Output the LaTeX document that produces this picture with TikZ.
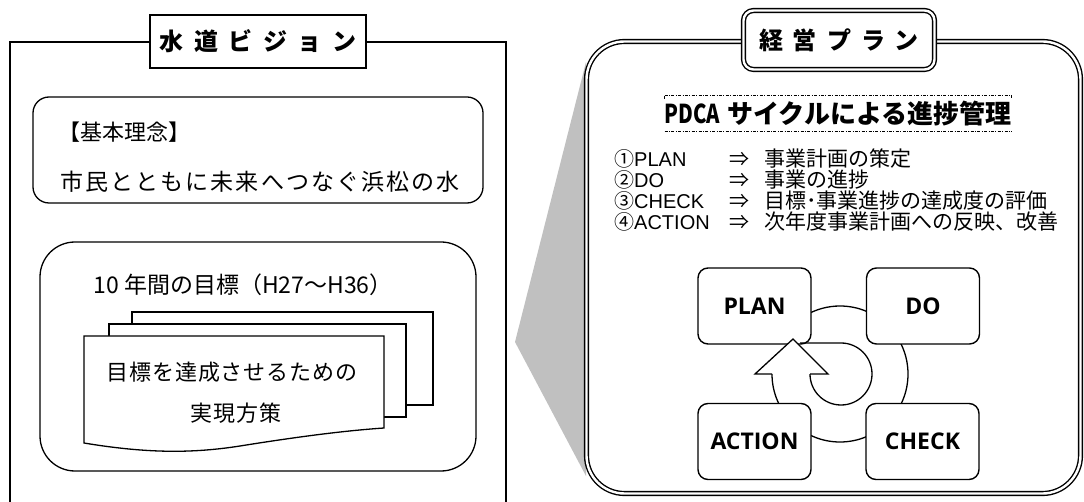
\documentclass[tikz,border=0pt]{standalone}
\usepackage{fontspec}
\newfontfamily\jp{Noto Sans CJK JP}
\newfontfamily\os{Open Sans}
\newfontfamily\lib{Liberation Sans}
\definecolor{wedgegray}{RGB}{192,192,192}
\newcommand\gapA{\hspace{10.5pt}}
\newcommand\gapB{\hspace{10pt}}
\begin{document}
\begin{tikzpicture}[x=1pt,y=-1pt,
  frame/.style={line width=1.6pt},
  rbox/.style={draw, line width=1.3pt},
  dbl/.style={draw, line width=1.4pt, double=white, double distance=2.4pt},
  jtxt/.style={inner sep=0pt, font=\jp\fontsize{22}{26}\selectfont},
  lstl/.style={inner sep=0pt, anchor=west, font=\lib\fontsize{20}{22}\selectfont},
  lstj/.style={inner sep=0pt, anchor=west, font=\jp\fontsize{21}{22}\selectfont},
  pbox/.style={draw, fill=white, line width=1.4pt, rounded corners=10pt, minimum width=113pt, minimum height=76pt, inner sep=0pt, font=\os\bfseries\fontsize{23}{23}\selectfont},
  page/.style={draw, fill=white, line width=1.3pt}
]
\useasboundingbox (0,0) rectangle (1084,502);

% ---------- left: water vision ----------
\draw[frame] (150,42) -- (10,42) -- (10,504);
\draw[frame] (366,42) -- (506,42) -- (506,504);
\node[draw, fill=white, line width=1.6pt, minimum width=216pt, minimum height=53pt, inner sep=0pt,
      font=\jp\bfseries\fontsize{24}{24}\selectfont] (t1) at (258,41.5)
      {水\gapA 道\gapA ビ\gapA ジ\gapA ョ\gapA ン};

\draw[rbox, rounded corners=16pt] (33,97) rectangle (483,203);
\node[jtxt, anchor=west] (k1) at (58,132) {【基本理念】};
\node[jtxt, font=\jp\fontsize{23}{26}\selectfont\addfontfeature{LetterSpace=9}] (k2) at (260,182) {市民とともに未来へつなぐ浜松の水};

\draw[rbox, rounded corners=35pt] (40,242) rectangle (476,471);
\node[jtxt, font=\jp\fontsize{23}{26}\selectfont] (g1) at (243,285) {10 年間の目標（H27〜H36）};

\draw[page] (132,312) rectangle (433,405);
\draw[page] (109,324) rectangle (406,417);
\draw[page] (84,336) -- (384,336) -- (384,428)
   .. controls (340,431) and (290,438) .. (240,446)
   .. controls (195,453) and (150,454) .. (84,443) -- cycle;
\node[jtxt, font=\jp\fontsize{22}{26}\selectfont\addfontfeature{LetterSpace=4}] (s1) at (232,372) {目標を達成させるための};
\node[jtxt, font=\jp\fontsize{22}{26}\selectfont\addfontfeature{LetterSpace=4}] (s2) at (236,413) {実現方策};

% ---------- grey wedge ----------
\fill[wedgegray] (586,62) -- (515,342) -- (586,476) -- cycle;

% ---------- right: management plan ----------
\draw[dbl, rounded corners=38pt] (586.5,41.5) rectangle (1080.5,493.5);
\node[dbl, fill=white, rounded corners=10pt, minimum width=191pt, minimum height=59pt, inner sep=0pt,
      font=\jp\bfseries\fontsize{24}{24}\selectfont] (t2) at (839,40)
      {経\gapB 営\gapB プ\gapB ラ\gapB ン};

\node[minimum width=340pt, minimum height=35pt, inner sep=0pt,
      font=\jp\bfseries\fontsize{26}{26}\selectfont] (hd) at (838,113.5)
      {\scalebox{0.78}[1]{PDCA}\hspace{7pt}サイクルによる進捗管理};
\draw[line width=0.6pt, dash pattern=on 3pt off 1.5pt on 0.8pt off 1.5pt] (hd.north west) -- (hd.north east);
\draw[line width=0.6pt, dash pattern=on 3pt off 1.5pt on 0.8pt off 1.5pt] (hd.south west) -- (hd.south east);
\draw[line width=0.6pt] (hd.north west) -- ++(0,3);
\draw[line width=0.6pt] (hd.north east) -- ++(0,2);

\node[lstl] (l1a) at (614,159) {{\jp ①}PLAN};
\node[lstl] (l1b) at (729,159) {{\jp ⇒}};
\node[lstj] (l1c) at (764,159) {事業計画の策定};
\node[lstl] (l2a) at (614,180) {{\jp ②}DO};
\node[lstl] (l2b) at (729,180) {{\jp ⇒}};
\node[lstj] (l2c) at (764,180) {事業の進捗};
\node[lstl] (l3a) at (614,201) {{\jp ③}CHECK};
\node[lstl] (l3b) at (729,201) {{\jp ⇒}};
\node[lstj] (l3c) at (764,201) {目標･事業進捗の達成度の評価};
\node[lstl] (l4a) at (614,222) {{\jp ④}ACTION};
\node[lstl] (l4b) at (729,222) {{\jp ⇒}};
\node[lstj] (l4c) at (764,222) {次年度事業計画への反映、改善};

% ---------- PDCA cycle ----------
\coordinate (cc) at (840,374);
\draw[line width=1.3pt] (772,374) arc[start angle=180, end angle=-150, radius=68];
\node[pbox] (plan) at (754.5,306) {PLAN};
\node[pbox] (do) at (923,306) {DO};
\node[pbox] (act) at (754.5,441.5) {ACTION};
\node[pbox] (chk) at (922.5,441.5) {CHECK};
\draw[line width=1.3pt, fill=white] (772,374) -- (755,374) -- (793,339) -- (828,374) -- (810,374);
\draw[line width=1.3pt] (810,374) arc[start angle=180, end angle=-90, radius=31] -- (800,343);
\end{tikzpicture}
\end{document}
